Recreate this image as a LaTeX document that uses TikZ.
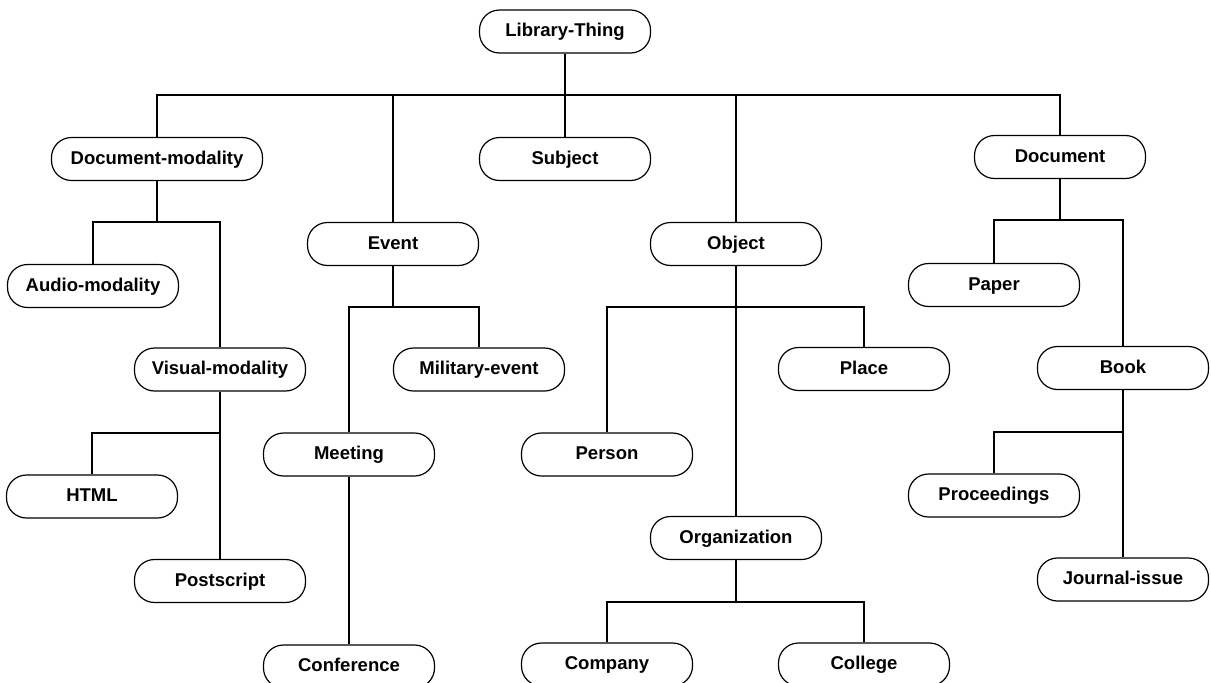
\documentclass[tikz,border=0pt]{standalone}
\usepackage{fontspec}
\setmainfont{Liberation Sans}
\begin{document}
\begin{tikzpicture}[x=1pt,y=-1pt,
  cls/.style={draw, line width=1.2pt, rounded corners=20pt,
    minimum width=171pt, minimum height=43pt, inner sep=0pt,
    text height=13.5pt, text depth=3.5pt,
    font=\bfseries\fontsize{18.5}{20}\selectfont},
  wide/.style={minimum width=211pt},
  link/.style={line width=1.2pt}]
\clip (0,0) rectangle (1211,683);
\fill[white] (0,0) rectangle (1211,683);

% class nodes
\node[cls] (lt) at (565,31.5) {Library-Thing};
\node[cls,wide] (docmod) at (157,159) {Document-modality};
\node[cls] (subj) at (565,159) {Subject};
\node[cls] (doc) at (1060,157) {Document};
\node[cls] (event) at (393,244) {Event};
\node[cls] (obj) at (736,244) {Object};
\node[cls] (audio) at (93,286) {Audio-modality};
\node[cls] (paper) at (994,285) {Paper};
\node[cls] (visual) at (220,369.5) {Visual-modality};
\node[cls] (milit) at (479,369.5) {Military-event};
\node[cls] (place) at (864,369) {Place};
\node[cls] (book) at (1123,368) {Book};
\node[cls] (meeting) at (349,454.5) {Meeting};
\node[cls] (person) at (607,454.5) {Person};
\node[cls] (html) at (92,496.5) {HTML};
\node[cls] (proc) at (994,495.5) {Proceedings};
\node[cls] (org) at (736,538) {Organization};
\node[cls] (post) at (220,581) {Postscript};
\node[cls] (journal) at (1123,579.5) {Journal-issue};
\node[cls] (conf) at (349,666.5) {Conference};
\node[cls] (company) at (607,664.5) {Company};
\node[cls] (college) at (864,664.5) {College};

% junction points of the tree
\coordinate (jroot) at (565,95);
\coordinate (jdm) at (157,222);
\coordinate (jev) at (393,307);
\coordinate (job) at (736,307);
\coordinate (jorg) at (736,602);
\coordinate (jvis) at (220,433);
\coordinate (jdoc) at (1060,220);
\coordinate (jbook) at (1123,432);

% connectors
\draw[link] (lt.south) -- (subj.north);
\draw[link] (jroot) -| (docmod.north);
\draw[link] (jroot) -| (event.north);
\draw[link] (jroot) -| (obj.north);
\draw[link] (jroot) -| (doc.north);

\draw[link] (docmod.south) -- (jdm);
\draw[link] (jdm) -| (audio.north);
\draw[link] (jdm) -| (visual.north);

\draw[link] (event.south) -- (jev);
\draw[link] (jev) -| (meeting.north);
\draw[link] (jev) -| (milit.north);
\draw[link] (meeting.south) -- (conf.north);

\draw[link] (obj.south) -- (org.north);
\draw[link] (job) -| (person.north);
\draw[link] (job) -| (place.north);

\draw[link] (org.south) -- (jorg);
\draw[link] (jorg) -| (company.north);
\draw[link] (jorg) -| (college.north);

\draw[link] (visual.south) -- (post.north);
\draw[link] (jvis) -| (html.north);

\draw[link] (doc.south) -- (jdoc);
\draw[link] (jdoc) -| (paper.north);
\draw[link] (jdoc) -| (book.north);

\draw[link] (book.south) -- (journal.north);
\draw[link] (jbook) -| (proc.north);
\end{tikzpicture}
\end{document}
